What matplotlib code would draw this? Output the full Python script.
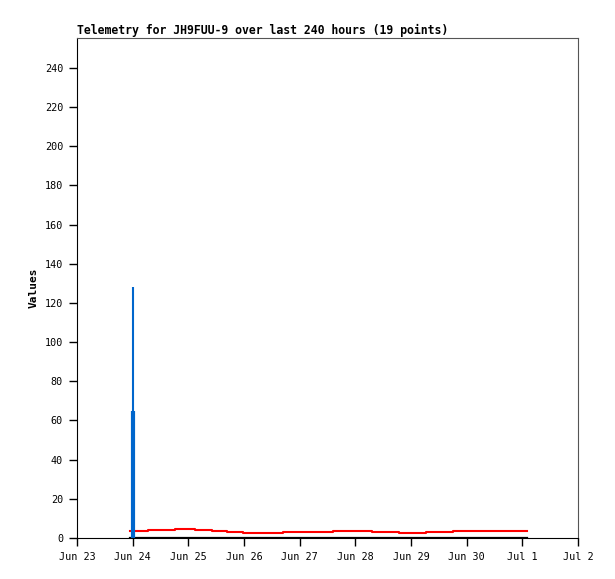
import pandas as pd
import matplotlib
matplotlib.use("Agg")
import matplotlib.pyplot as plt

# Red step series
red_times = ["2025-06-23 22:50", "2025-06-24 06:45", "2025-06-24 18:15",
             "2025-06-25 02:53", "2025-06-25 10:05", "2025-06-25 16:48",
             "2025-06-25 23:41", "2025-06-26 16:57", "2025-06-27 14:30",
             "2025-06-28 07:03", "2025-06-28 18:58", "2025-06-29 06:27",
             "2025-06-29 18:14", "2025-07-01 01:52"]
red_values = [3.7, 4.2, 4.75, 4.2, 3.7, 3.1, 2.7, 3.1, 3.7, 3.1, 2.7, 3.1, 3.7, 3.7]

# Blue spikes at start
blue_times = ["2025-06-24 00:05", "2025-06-24 00:05"]
blue_values = [128, 65]
blue_widths = [1.5, 3.0]

# Black baseline series
black_times = ["2025-06-23 22:50", "2025-07-01 01:52"]
black_values = [0, 0]

xlim = ("2025-06-23", "2025-07-02")
tick_days = pd.date_range("2025-06-23", "2025-07-02", freq="D")
tick_labels = ["Jun 23", "Jun 24", "Jun 25", "Jun 26", "Jun 27",
               "Jun 28", "Jun 29", "Jun 30", "Jul 1", "Jul 2"]

plt.rcParams["font.family"] = "DejaVu Sans Mono"

fig = plt.figure(figsize=(6.15, 5.79), dpi=100)
ax = fig.add_axes([77 / 615, 1 - 538 / 579, 501 / 615, 500 / 579])

ax.plot(pd.to_datetime(black_times), black_values, color="black", linewidth=1.6)
ax.plot(pd.to_datetime(red_times), red_values, color="#ff0000", linewidth=1.5,
        drawstyle="steps-post")
for t, v, w in zip(pd.to_datetime(blue_times), blue_values, blue_widths):
    ax.vlines(t, 0, v, color="#0066cc", linewidth=w)

ax.set_xlim(pd.to_datetime(xlim[0]), pd.to_datetime(xlim[1]))
ax.set_ylim(0, 255.3)
ax.set_xticks(tick_days)
ax.set_xticklabels(tick_labels)
ax.set_yticks(range(0, 241, 20))
ax.tick_params(direction="out", length=6, width=1, labelsize=7.3, pad=4)

for side in ["top", "right"]:
    ax.spines[side].set_color("#555555")
for side in ["left", "bottom"]:
    ax.spines[side].set_color("black")

ax.set_ylabel("Values", fontsize=8, fontweight="bold")
ax.set_title("Telemetry for JH9FUU-9 over last 240 hours (19 points)",
             loc="left", fontsize=8.3, fontweight="bold", pad=3)

fig.savefig("out.png", dpi=100)
